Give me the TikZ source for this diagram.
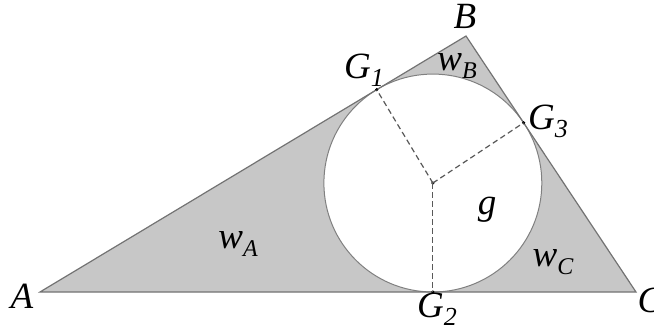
\documentclass[tikz,border=0pt]{standalone}
\usepackage{fontspec}
\setmainfont{Liberation Serif}
\newfontfamily\labfont{Liberation Serif}
\begin{document}
\begin{tikzpicture}[x=1pt,y=-1pt,
  lab/.style={inner sep=0pt,font=\labfont\itshape\fontsize{37}{40}\selectfont},
  dot/.style={circle,fill=black,inner sep=0pt,minimum size=3.5pt},
  edge/.style={draw=black!55,line width=1.2pt},
  rad/.style={draw=black!65,line width=1.2pt,dash pattern=on 5.5pt off 3.5pt}]
\useasboundingbox (0,0) rectangle (654,332);
\coordinate (A) at (40,292);
\coordinate (B) at (466,36);
\coordinate (C) at (636,292);
\coordinate (O) at (432.85,183.04);
\fill[black!22] (A) -- (B) -- (C) -- cycle;
\fill[white,draw=black!50,line width=1pt] (O) circle (108.96);
\draw[edge,line join=miter] (A) -- (B) -- (C) -- cycle;
\node[dot] (g1) at (376.7,89.7) {};
\node[dot] (g2) at (432.85,292) {};
\node[dot] (g3) at (523.6,122.8) {};
\node[dot] (o) at (O) {};
\draw[rad] (o.center) -- (g1.center);
\draw[rad] (o.center) -- (g2.center);
\draw[rad] (o.center) -- (g3.center);
\node[lab] (lA) at (22,296) {A};
\node[lab] (lB) at (465,16) {B};
\node[lab] (lC) at (650,300) {C};
\node[lab] (lG1) at (364,70) {G\raisebox{-0.22em}{\fontsize{26}{28}\selectfont 1}};
\node[lab] (lG2) at (437,309) {G\raisebox{-0.22em}{\fontsize{26}{28}\selectfont 2}};
\node[lab] (lG3) at (548,121) {G\raisebox{-0.22em}{\fontsize{26}{28}\selectfont 3}};
\node[lab] (lwB) at (457,66) {w\raisebox{-0.22em}{\fontsize{24}{26}\selectfont B}};
\node[lab] (lwA) at (238,244) {w\raisebox{-0.22em}{\fontsize{24}{26}\selectfont A}};
\node[lab] (lwC) at (553,262) {w\raisebox{-0.22em}{\fontsize{24}{26}\selectfont C}};
\node[lab] (lg) at (487,210) {g};
\end{tikzpicture}
\end{document}
